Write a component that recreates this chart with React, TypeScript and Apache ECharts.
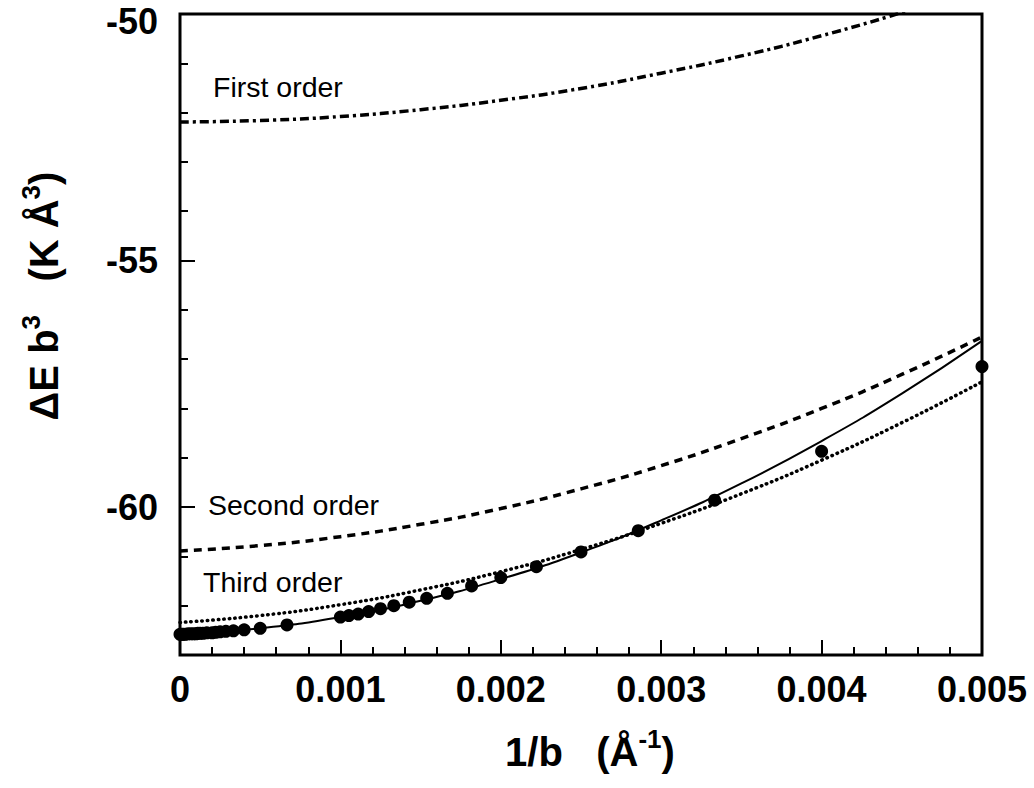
import React, { useEffect, useRef } from "react";
import * as echarts from "echarts";

// Axis ticks
const xTickLabels = ["0", "0.001", "0.002", "0.003", "0.004", "0.005"];
const yLabelValues = [-60, -55, -50];

// Perturbation-order curves, sampled along 1/b (Å^-1)
const curveX = [0, 0.0005, 0.001, 0.0015, 0.002, 0.0025, 0.003, 0.0035, 0.004, 0.0045, 0.005];
const firstOrder = [-52.19, -52.16, -52.08, -51.94, -51.75, -51.51, -51.2, -50.85, -50.44, -49.97, -49.45];
const secondOrder = [-60.89, -60.78, -60.6, -60.35, -60.03, -59.63, -59.16, -58.61, -58.0, -57.31, -56.55];
const thirdOrder = [-62.34, -62.2, -61.98, -61.68, -61.31, -60.86, -60.33, -59.73, -59.05, -58.29, -57.46];
const fitCurve = [-62.58, -62.46, -62.23, -61.9, -61.46, -60.92, -60.27, -59.52, -58.66, -57.7, -56.63];

// Computed points (1/b, ΔE b^3)
const pointX = [
  0.005, 0.004, 0.003333, 0.002857, 0.0025, 0.002222, 0.002, 0.001818, 0.001667, 0.001538,
  0.001429, 0.001333, 0.00125, 0.001176, 0.001111, 0.001053, 0.001, 0.000667, 0.0005, 0.0004,
  0.000333, 0.000286, 0.00025, 0.000222, 0.0002, 0.000167, 0.000143, 0.000125, 0.000111, 0.0001,
  0.000083, 0.000067, 0.00005, 0.000033, 0.00002, 0.00001, 0,
];
const pointY = [
  -57.15, -58.87, -59.86, -60.48, -60.91, -61.21, -61.43, -61.6, -61.75, -61.85,
  -61.93, -62.0, -62.06, -62.12, -62.17, -62.2, -62.23, -62.39, -62.46, -62.49,
  -62.51, -62.52, -62.53, -62.54, -62.55, -62.55, -62.56, -62.56, -62.56, -62.57,
  -62.57, -62.57, -62.57, -62.58, -62.58, -62.58, -62.58,
];

const FONT = "'Liberation Sans', Arial, Helvetica, sans-serif";
const BLACK = "#000";

const pairs = (xs: number[], ys: number[]) => xs.map((x, i) => [x, ys[i]]);

export default function App() {
  const ref = useRef<HTMLDivElement>(null);

  useEffect(() => {
    if (!ref.current) return;
    const chart = echarts.init(ref.current, null, { renderer: "svg" });
    const tickLine = { color: BLACK, width: 2 };
    const topLabel = yLabelValues[yLabelValues.length - 1];

    const option = {
      animation: false,
      backgroundColor: "#fff",
      grid: {
        left: 180,
        right: 52,
        top: 14,
        bottom: 133,
        outerBoundsMode: "none",
        show: true,
        borderColor: BLACK,
        borderWidth: 3,
        backgroundColor: "transparent",
      },
      xAxis: {
        type: "value",
        min: 0,
        max: 0.005,
        interval: 0.001,
        axisLine: { show: false },
        axisTick: { show: true, inside: true, length: 15, lineStyle: tickLine },
        minorTick: { show: true, splitNumber: 5, length: 8, lineStyle: tickLine },
        splitLine: { show: false },
        minorSplitLine: { show: false },
        axisLabel: {
          margin: 16,
          fontSize: 36,
          fontWeight: "bold",
          fontFamily: FONT,
          color: BLACK,
          formatter: (v: number) => xTickLabels[Math.round(v / 0.001)] ?? "",
        },
      },
      yAxis: [
        {
          type: "value",
          min: -63,
          max: -50,
          axisLine: { show: false },
          axisTick: { show: true, inside: true, length: 15, customValues: yLabelValues, lineStyle: tickLine },
          axisLabel: {
            customValues: yLabelValues,
            margin: 22,
            fontSize: 36,
            fontWeight: "bold",
            fontFamily: FONT,
            color: BLACK,
            // an empty first line drops the top label a little so it stays on the page
            formatter: (v: number) => (v === topLabel ? `{gap|}\n{top|${v}}` : `${v}`),
            rich: {
              gap: { fontSize: 10, lineHeight: 14 },
              top: { fontSize: 36, fontWeight: "bold", fontFamily: FONT, color: BLACK, lineHeight: 40 },
            },
          },
          splitLine: { show: false },
        },
        {
          type: "value",
          min: -63,
          max: -50,
          interval: 1,
          position: "left",
          axisLine: { show: false },
          axisTick: { show: true, inside: true, length: 8, lineStyle: tickLine },
          axisLabel: { show: false },
          splitLine: { show: false },
        },
      ],
      series: [
        {
          name: "First order",
          type: "line",
          data: pairs(curveX, firstOrder),
          smooth: true,
          symbol: "none",
          lineStyle: { color: BLACK, width: 3.5, type: [9, 4, 3, 4] },
        },
        {
          name: "Second order",
          type: "line",
          data: pairs(curveX, secondOrder),
          smooth: true,
          symbol: "none",
          lineStyle: { color: BLACK, width: 3.5, type: [8, 6] },
        },
        {
          name: "Third order",
          type: "line",
          data: pairs(curveX, thirdOrder),
          smooth: true,
          symbol: "none",
          lineStyle: { color: BLACK, width: 3.5, type: [0.5, 5], cap: "round" },
        },
        {
          name: "Fit",
          type: "line",
          data: pairs(curveX, fitCurve),
          smooth: true,
          symbol: "none",
          lineStyle: { color: BLACK, width: 2 },
        },
        {
          name: "Points",
          type: "scatter",
          data: pairs(pointX, pointY),
          symbol: "circle",
          symbolSize: 13,
          itemStyle: { color: BLACK, opacity: 1 },
          z: 5,
        },
      ],
      graphic: [
        {
          type: "text",
          x: 213,
          y: 87,
          style: { text: "First order", fontSize: 28.5, fontFamily: FONT, fill: BLACK, align: "left", verticalAlign: "middle" },
        },
        {
          type: "text",
          x: 208,
          y: 505,
          style: { text: "Second order", fontSize: 28.5, fontFamily: FONT, fill: BLACK, align: "left", verticalAlign: "middle" },
        },
        {
          type: "text",
          x: 203,
          y: 582,
          style: { text: "Third order", fontSize: 28.5, fontFamily: FONT, fill: BLACK, align: "left", verticalAlign: "middle" },
        },
        {
          type: "text",
          x: 44,
          y: 296,
          rotation: Math.PI / 2,
          style: {
            text: "{m|ΔE b}{s|3}{m|   (K Å}{s|3}{m|)}",
            align: "center",
            verticalAlign: "middle",
            fill: BLACK,
            rich: {
              m: { fontSize: 40, fontWeight: "bold", fontFamily: FONT, fill: BLACK, lineHeight: 52 },
              s: { fontSize: 26, fontWeight: "bold", fontFamily: FONT, fill: BLACK, verticalAlign: "top", lineHeight: 52 },
            },
          },
        },
        {
          type: "text",
          x: 590,
          y: 752,
          style: {
            text: "{m|1/b   (Å}{s|-1}{m|)}",
            align: "center",
            verticalAlign: "middle",
            fill: BLACK,
            rich: {
              m: { fontSize: 40, fontWeight: "bold", fontFamily: FONT, fill: BLACK, lineHeight: 52 },
              s: { fontSize: 26, fontWeight: "bold", fontFamily: FONT, fill: BLACK, verticalAlign: "top", lineHeight: 52 },
            },
          },
        },
      ],
    };

    chart.setOption(option as any);
    return () => chart.dispose();
  }, []);

  return (
    <div
      ref={ref}
      style={{ position: "absolute", left: 0, top: 0, width: 1034, height: 788, background: "#fff" }}
    />
  );
}
